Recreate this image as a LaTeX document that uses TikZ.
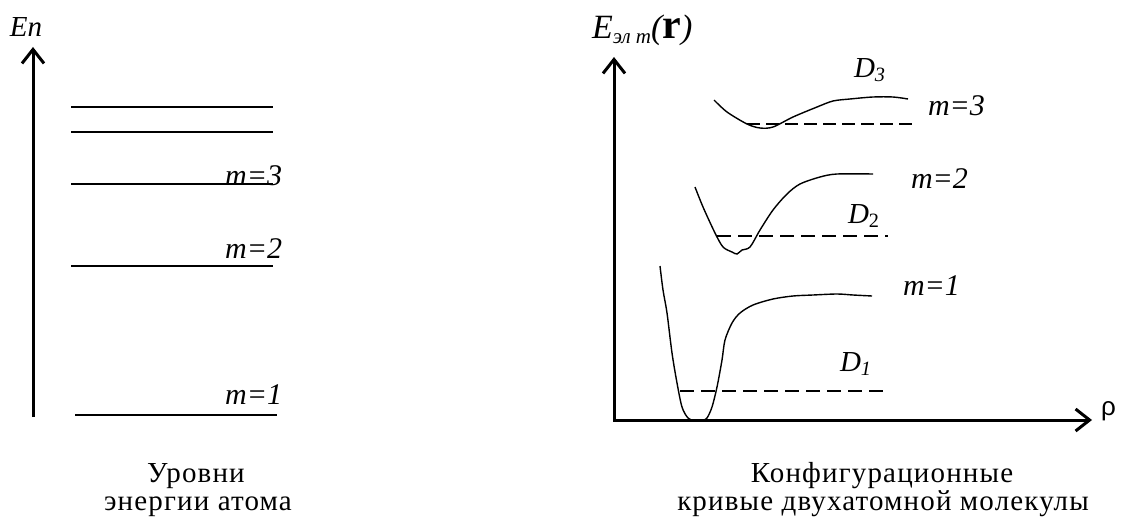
\documentclass[tikz,border=0pt]{standalone}
\usepackage{fontspec}
\setmainfont{Liberation Serif}
\newfontfamily\captionfont[LetterSpace=4]{Liberation Serif}
\newfontfamily\rhofont{Liberation Sans}
\usetikzlibrary{arrows.meta, positioning}

\begin{document}
\begin{tikzpicture}[
    % one unit = one pixel of the reference
    x=0.5pt, y=-0.5pt,
    >={Straight Barb[length=7pt, width=11pt]},
    every path/.style={color=black, line width=1pt},
    every node/.style={color=black, inner sep=0pt},
    axis/.style={line width=1.5pt},
    level/.style={line width=1pt},
    curve/.style={line width=0.7pt},
    thin dash/.style={line width=0.7pt, dash pattern=on 6.5pt off 3pt},
    thick dash/.style={line width=1.4pt, dash pattern=on 7pt off 3.5pt},
    mlabel/.style={font=\fontsize{15}{15}\selectfont\itshape},
    dlabel/.style={font=\fontsize{14.5}{14.5}\selectfont\itshape, anchor=base west},
    caption/.style={font=\fontsize{14.5}{15}\selectfont\captionfont, anchor=base}
  ]
  \useasboundingbox (0,0) rectangle (1128,524);

  % --- Left: atomic levels ---
  \coordinate (en base) at (33,417);
  \coordinate (en top) at (33,47);
  \draw[axis, ->] (en base) -- (en top);
  \node[anchor=base west, font=\fontsize{14.5}{14.5}\selectfont\itshape] (en label) at (9,37) {En};

  \foreach \y in {107,132,184,266} {
    \draw[level] (71,\y) -- ++(202,0);
  }
  \draw[level] (75,415) -- ++(202,0);

  \node[mlabel, anchor=base east] (lvl m3) at (283,185) {m=3};
  \node[mlabel, anchor=base east] (lvl m2) at (283,258) {m=2};
  \node[mlabel, anchor=base east] (lvl m1) at (283,404) {m=1};

  \node[caption] (lvl cap a) at (196,482) {Уровни};
  \node[caption] (lvl cap b) at (198,510) {энергии атома};

  % --- Right: configuration curves ---
  \coordinate (origin) at (614,420);
  \coordinate (e top) at (614,57);
  \coordinate (rho end) at (1092,420);
  \draw[axis, <->] (e top) -- (origin) -- (rho end);

  \node[anchor=base west] (e label) at (591,39)
    {\fontsize{17}{17}\selectfont\itshape E\raisebox{-2.5pt}{\fontsize{10.5}{10}\selectfont эл m}(\fontsize{21}{21}\selectfont\upshape\bfseries r\fontsize{17}{17}\selectfont\mdseries\itshape)};
  \node[anchor=base west, font=\fontsize{13}{13}\selectfont\rhofont] (rho label) at (1100,415) {ρ};

  % m=3
  \draw[curve] plot[smooth, tension=0.5] coordinates {
    (714,100) (727,112) (747,124) (760,128) (773,127) (793,117)
    (817,107) (833,101) (850,99) (873,97) (893,97) (908,99)};
  \draw[thin dash] (747,124) -- (915,124);
  \node[dlabel] (d3) at (853,77) {D\textsubscript{3}};
  \node[mlabel, anchor=base west] (mol m3) at (927,115) {m=3};

  % m=2
  \draw[curve] plot[smooth, tension=0.5] coordinates {
    (695,187) (703,207) (715,233) (723,247) (732,252) (737,254) (742,250)
    (750,247) (760,230) (773,210) (787,194) (800,184) (820,177) (837,174) (873,174)};
  \draw[thick dash] (717,236) -- (888,236);
  \node[dlabel] (d2) at (847,223) {D\textsubscript{\upshape 2}};
  \node[mlabel, anchor=base west] (mol m2) at (910,188) {m=2};

  % m=1
  \draw[curve] plot[smooth, tension=0.5] coordinates {
    (660,266) (663,290) (667,313) (672,353) (677,383) (682,407) (688,418)
    (695,421) (703,420) (707,418) (712,407) (717,387) (722,360) (725,340)
    (732,323) (740,313) (753,305) (773,299) (793,296) (813,295) (837,294)
    (853,295) (872,296)};
  \draw[thick dash] (680,391) -- (883,391);
  \node[dlabel] (d1) at (839,371) {D\textsubscript{1}};
  \node[mlabel, anchor=base west] (mol m1) at (902,295) {m=1};

  \node[caption] (mol cap a) at (882,482) {Конфигурационные};
  \node[caption] (mol cap b) at (883,510) {кривые двухатомной молекулы};
\end{tikzpicture}
\end{document}
